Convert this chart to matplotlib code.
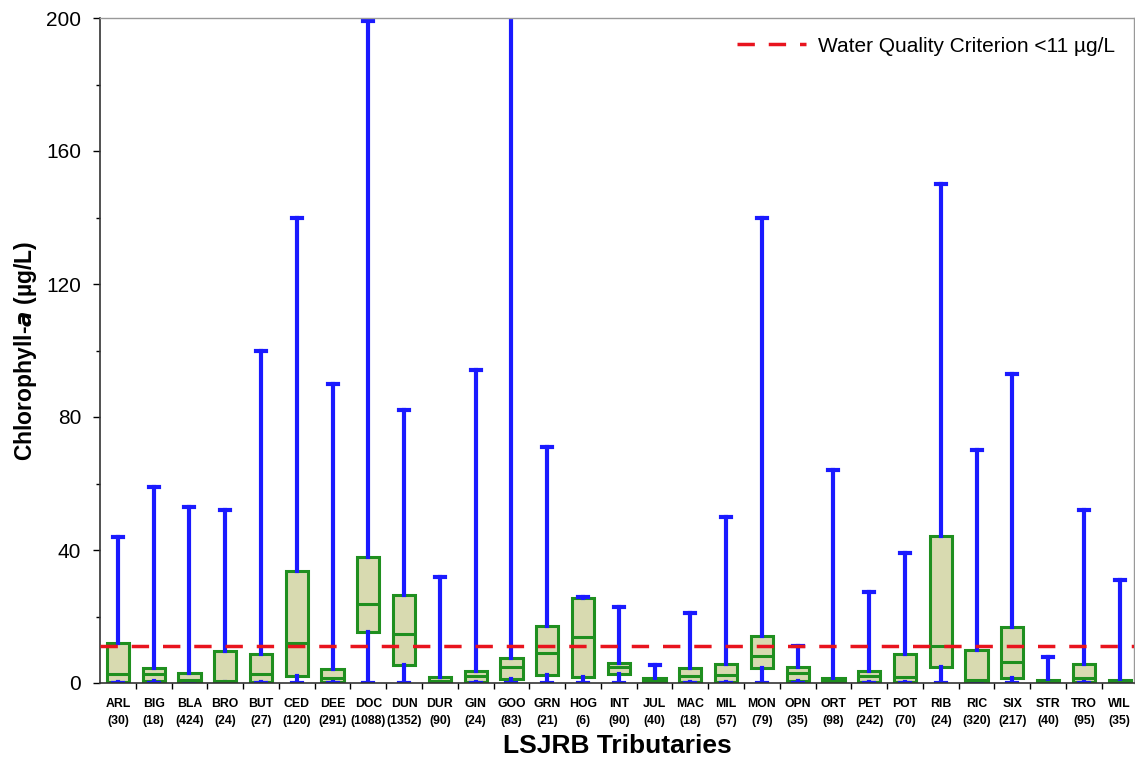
import matplotlib
matplotlib.use("Agg")
import matplotlib.pyplot as plt
from matplotlib.ticker import MultipleLocator, FixedLocator

plt.rcParams['font.family'] = ['Liberation Sans', 'DejaVu Sans']

sites = ["ARL", "BIG", "BLA", "BRO", "BUT", "CED", "DEE", "DOC", "DUN", "DUR",
         "GIN", "GOO", "GRN", "HOG", "INT", "JUL", "MAC", "MIL", "MON", "OPN",
         "ORT", "PET", "POT", "RIB", "RIC", "SIX", "STR", "TRO", "WIL"]
counts = [30, 18, 424, 24, 27, 120, 291, 1088, 1352, 90,
          24, 83, 21, 6, 90, 40, 18, 57, 79, 35,
          98, 242, 70, 24, 320, 217, 40, 95, 35]
whisker_high = [44, 59, 53, 52, 100, 140, 90, 199, 82, 32,
                94, 205, 71, 26, 23, 5.5, 21, 50, 140, 11,
                64, 27.5, 39, 150, 70, 93, 7.8, 52, 31]
q3 = [12.1, 4.6, 3.1, 9.7, 8.7, 33.7, 4.1, 37.8, 26.5, 1.7,
      3.7, 7.4, 17.0, 25.5, 5.9, 1.4, 4.6, 5.7, 14.1, 4.8,
      1.5, 3.7, 8.6, 44.2, 9.9, 16.7, 1.0, 5.7, 1.0]
medians = [2.7, 2.7, 1.0, 0.6, 2.7, 12.1, 1.5, 23.7, 14.6, 0.5,
           2.0, 4.9, 9.1, 13.7, 4.7, 0.7, 2.0, 2.5, 8.2, 2.9,
           0.5, 2.0, 1.9, 11.1, 1.0, 6.4, 0.4, 1.5, 0.4]
q1 = [0.4, 0.5, 0.3, 0.3, 0.4, 2.2, 0.3, 15.2, 5.4, 0.2,
      0.3, 1.1, 2.4, 1.9, 2.7, 0.2, 0.3, 0.3, 4.6, 0.5,
      0.2, 0.3, 0.3, 4.7, 0.3, 1.4, 0.2, 0.3, 0.2]
whisker_low = [0.0] * 29

criterion = 11
yticks = [0, 40, 80, 120, 160, 200]

fig = plt.figure(figsize=(11.35, 7.62), dpi=100)
ax = fig.add_axes([100 / 1135, 79 / 762, 1034 / 1135, 665 / 762])

stats = []
for i, s in enumerate(sites):
    stats.append(dict(label=s, med=medians[i], q1=q1[i], q3=q3[i],
                      whislo=whisker_low[i], whishi=whisker_high[i], fliers=[]))

positions = list(range(len(sites)))
ax.bxp(stats, positions=positions, widths=0.62, patch_artist=True,
       showfliers=False,
       boxprops=dict(facecolor="#d8dab0", edgecolor="#1f8f1f", linewidth=2.2),
       medianprops=dict(color="#1f8f1f", linewidth=2.2),
       whiskerprops=dict(color="#1a1aff", linewidth=3),
       capprops=dict(color="#1a1aff", linewidth=3),
       capwidths=0.28, zorder=2)

ax.axhline(criterion, color="#e8141e", linestyle=(0, (5, 4)), linewidth=2.5,
           zorder=5, label="Water Quality Criterion <11 \u00b5g/L")

ax.set_xlim(-0.5, 28.4)
ax.set_ylim(0, 200)
ax.set_yticks(yticks)
ax.yaxis.set_minor_locator(MultipleLocator(20))
ax.tick_params(axis='y', which='major', labelsize=15, length=5, width=1,
               direction='out', pad=8.5)
ax.tick_params(axis='y', which='minor', length=3, width=1, direction='out')

ax.set_xticks(positions)
ax.set_xticklabels([f"{s}\n({n})" for s, n in zip(sites, counts)],
                   fontsize=8.8, fontweight='bold', linespacing=1.55)
ax.tick_params(axis='x', which='major', length=0, pad=11)
ax.xaxis.set_minor_locator(FixedLocator([p + 0.5 for p in positions[:-1]]))
ax.tick_params(axis='x', which='minor', length=4, width=1, direction='out')

for side in ['top', 'right']:
    ax.spines[side].set_color('#999999')
    ax.spines[side].set_linewidth(1)
for side in ['left', 'bottom']:
    ax.spines[side].set_color('#333333')
    ax.spines[side].set_linewidth(1.2)

ax.set_ylabel("Chlorophyll-$\\mathbfit{a}$ (\u00b5g/L)", fontsize=16.5,
              fontweight='bold', labelpad=5)
ax.set_xlabel("LSJRB Tributaries", fontsize=19, fontweight='bold', labelpad=5)

ax.legend(loc='upper right', frameon=False, fontsize=15, handlelength=3.3,
          handletextpad=0.6, borderaxespad=0.5)

fig.savefig("out.png", dpi=100, facecolor="white")
